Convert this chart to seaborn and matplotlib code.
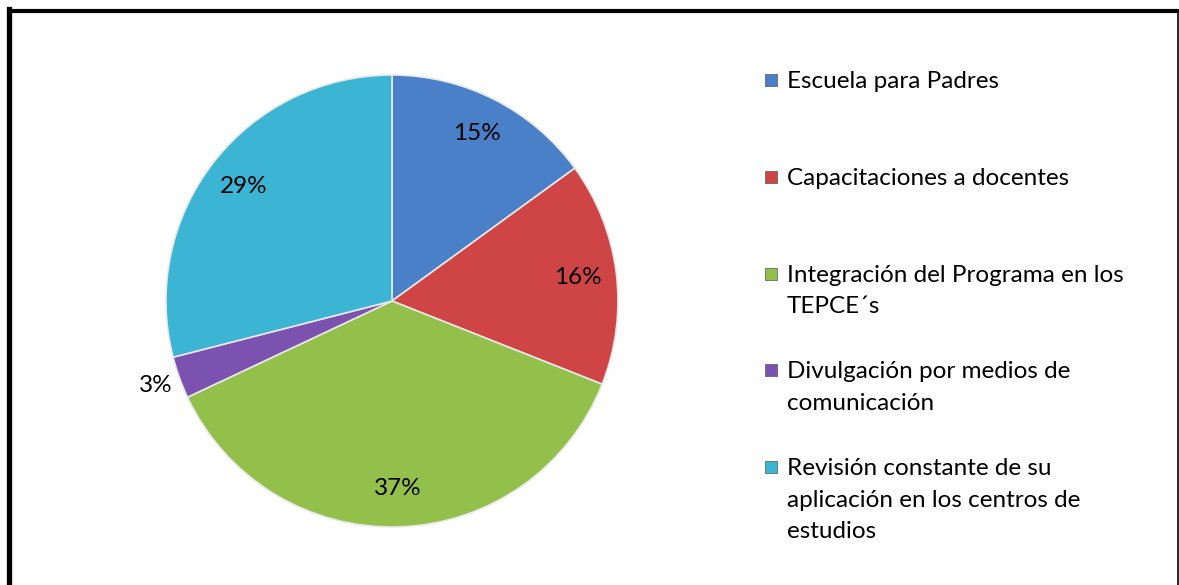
import matplotlib
matplotlib.use("Agg")
import matplotlib.pyplot as plt
import seaborn as sns
import numpy as np
from matplotlib.patches import Rectangle
from matplotlib.lines import Line2D

sns.set_theme(style="white")
plt.rcParams['font.family'] = ['Lato', 'DejaVu Sans']

categories = ["Escuela para Padres", "Capacitaciones a docentes",
              "Integración del Programa en los\nTEPCE´s",
              "Divulgación por medios de\ncomunicación",
              "Revisión constante de su\naplicación en los centros de\nestudios"]
values = [15, 16, 37, 3, 29]
colors = ["#4A80C8", "#CF4545", "#93C04A", "#7C52B0", "#3CB4D4"]

fig = plt.figure(figsize=(11.79, 5.85), dpi=100)
W, H = 1179, 585
cx, cy, r = 392, 301, 226
ax = fig.add_axes([(cx - r) / W, (H - cy - r) / H, 2 * r / W, 2 * r / H])

wedges, texts, autotexts = ax.pie(
    values, colors=colors, startangle=90, counterclock=False,
    autopct='%1.0f%%', pctdistance=0.83, radius=1,
    wedgeprops=dict(edgecolor="#E8E8E8", linewidth=1.2),
    textprops=dict(fontsize=17.5, color="black"))
ax.set_xlim(-1, 1)
ax.set_ylim(-1, 1)
ax.set_aspect('equal')

# small slice label outside
for w, t, v in zip(wedges, autotexts, values):
    if v < 5:
        ang = np.deg2rad((w.theta1 + w.theta2) / 2)
        t.set_position((1.11 * np.cos(ang), 1.11 * np.sin(ang)))

# manual legend
y0, step = 80, 96.8
for i, (lab, col) in enumerate(zip(categories, colors)):
    y = y0 + i * step
    fig.add_artist(Rectangle((765 / W, 1 - (y + 6) / H), 12 / W, 12 / H,
                             transform=fig.transFigure, facecolor=col,
                             edgecolor="#555555", linewidth=0.5))
    fig.text(787 / W, 1 - (y - 9) / H, lab, ha="left", va="top",
             fontsize=17.5, linespacing=1.62, color="black")

# frame
fig.add_artist(Line2D([8.5 / W, 8.5 / W], [0, 1 - 9 / H], color="black", lw=3.8,
                      transform=fig.transFigure, solid_capstyle="projecting"))
fig.add_artist(Line2D([8.5 / W, 1178 / W], [1 - 10.5 / H, 1 - 10.5 / H], color="black", lw=3,
                      transform=fig.transFigure))
fig.add_artist(Line2D([1177.5 / W, 1177.5 / W], [0, 1 - 10.5 / H], color="black", lw=1.2,
                      transform=fig.transFigure))

fig.savefig("out.png", dpi=100, facecolor="white")
